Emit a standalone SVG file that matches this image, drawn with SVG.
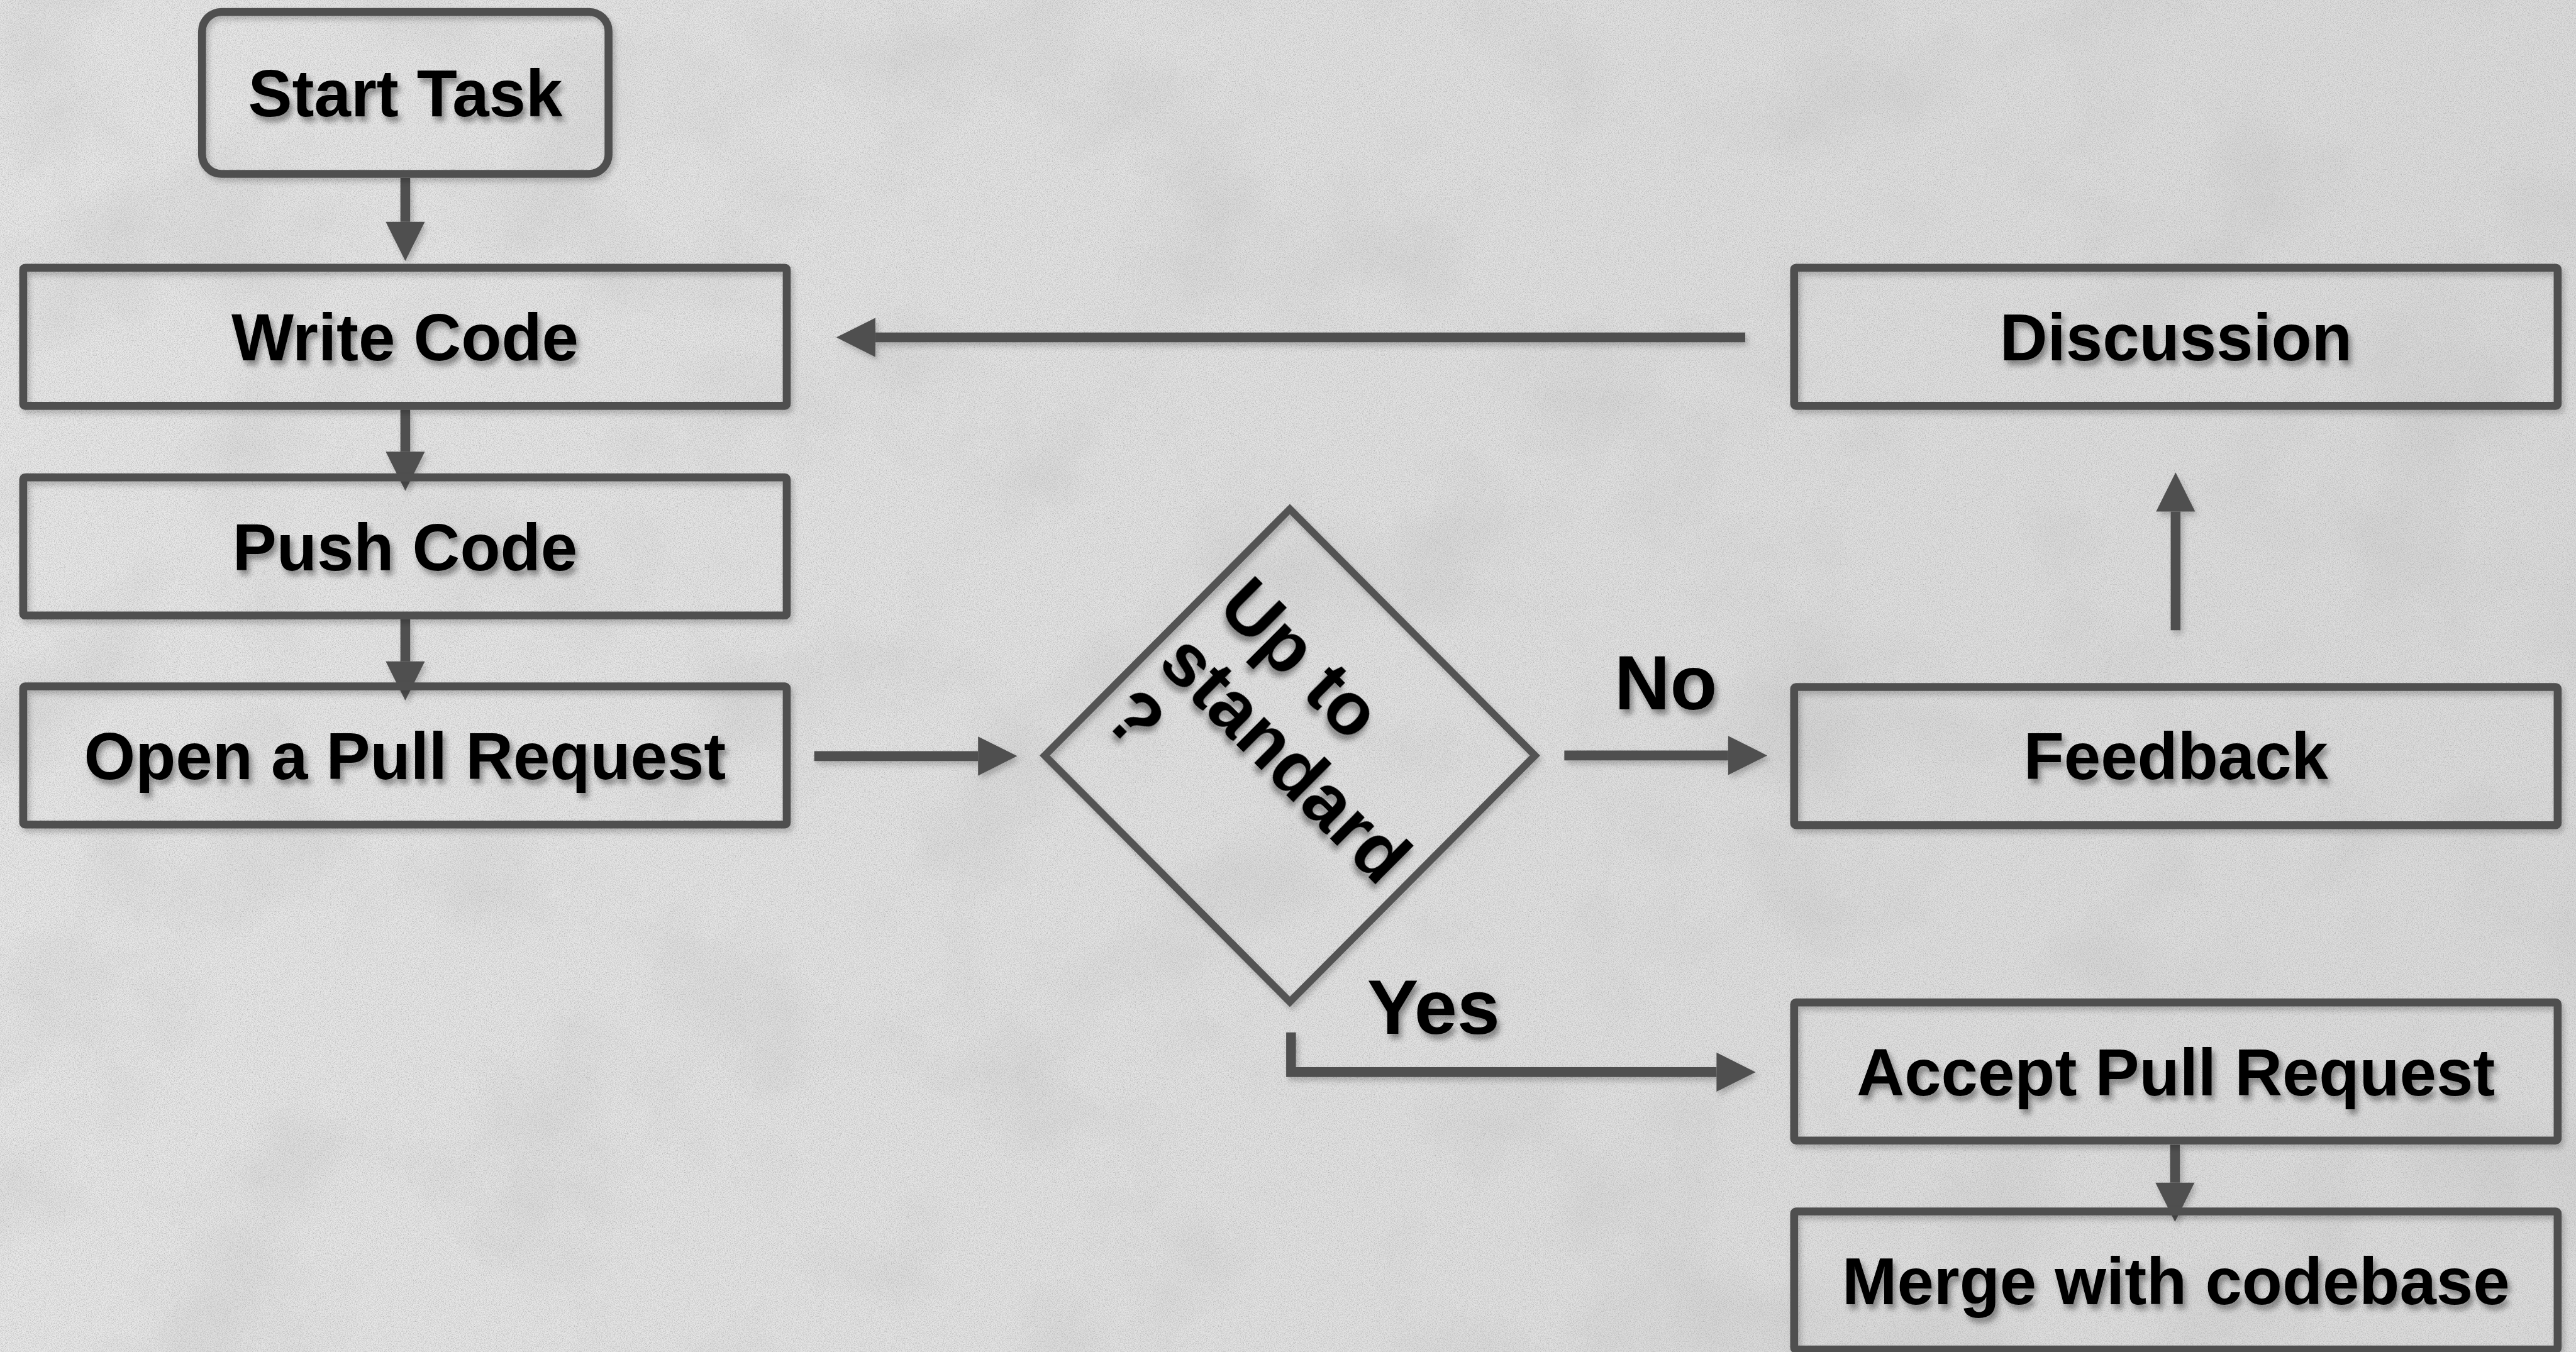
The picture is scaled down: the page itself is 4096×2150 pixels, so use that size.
<svg xmlns="http://www.w3.org/2000/svg" width="4096" height="2150" viewBox="0 0 4096 2150">
<defs>
<style>
.box{fill:none;stroke:#505050;stroke-width:13}
.dia{fill:none;stroke:#535353;stroke-width:12;stroke-linejoin:miter}
.lbl{font-family:"Liberation Sans",Arial,Helvetica,sans-serif;font-weight:bold;fill:#000;filter:url(#shText)}
.t108{font-size:108px;text-anchor:middle}
.t126{font-size:126px}
.t122{font-size:122px}
.con path{fill:none;stroke:#505050;stroke-width:16;stroke-linejoin:miter;marker-end:url(#ah)}
</style>
<marker id="ah" markerUnits="userSpaceOnUse" markerWidth="66" markerHeight="66" refX="0" refY="32" orient="auto" overflow="visible">
<path d="M0,0 L64,32 L0,64 Z" fill="#505050"/>
</marker>
<filter id="shText" x="-10%" y="-20%" width="130%" height="160%">
<feDropShadow dx="5" dy="8" stdDeviation="5" flood-color="#000" flood-opacity="0.4"/>
</filter>
<filter id="shShape" filterUnits="userSpaceOnUse" x="0" y="0" width="4400" height="2400">
<feDropShadow dx="4" dy="6" stdDeviation="5" flood-color="#000" flood-opacity="0.22"/>
</filter>
<filter id="grain" filterUnits="userSpaceOnUse" x="0" y="0" width="4096" height="2150">
<feTurbulence type="fractalNoise" baseFrequency="0.75" numOctaves="2" seed="4" result="n"/>
<feColorMatrix in="n" type="matrix" values="0 0 0 0 0.4  0 0 0 0 0.4  0 0 0 0 0.4  1.5 0 0 0 -0.6"/>
</filter>
<filter id="blotch" filterUnits="userSpaceOnUse" x="0" y="0" width="4096" height="2150">
<feTurbulence type="fractalNoise" baseFrequency="0.004 0.004" numOctaves="5" seed="11" result="m"/>
<feColorMatrix in="m" type="matrix" values="0 0 0 0 0.5  0 0 0 0 0.5  0 0 0 0 0.5  0.7 0 0 0 -0.33"/>
</filter>
<linearGradient id="bgG" x1="0" y1="0" x2="1" y2="0">
<stop offset="0" stop-color="#e8e8e8"/>
<stop offset="0.5" stop-color="#e2e2e2"/>
<stop offset="1" stop-color="#dcdcdc"/>
</linearGradient>
</defs>
<rect width="4096" height="2150" fill="url(#bgG)"/>
<rect width="4096" height="2150" fill="#fff" filter="url(#blotch)"/>
<rect width="4096" height="2150" fill="#fff" filter="url(#grain)"/>
<g transform="scale(0.972)">
<g id="connectors" class="con" filter="url(#shShape)">
<path id="c-start-write" d="M663,291 L663,363"/>
<path id="c-write-push" d="M663,670 L663,739"/>
<path id="c-push-open" d="M663,1013 L663,1082"/>
<path id="c-disc-write" d="M2855,552 L1432,552"/>
<path id="c-open-dec" d="M1332,1237 L1600,1237"/>
<path id="c-dec-feed" d="M2559,1236 L2827,1236"/>
<path id="c-feed-disc" d="M3559,1031 L3559,837"/>
<path id="c-dec-accept" d="M2112,1689 L2112,1754 L2808,1754"/>
<path id="c-accept-merge" d="M3558,1873 L3558,1935"/>
</g>
<g id="nodes" filter="url(#shShape)">
<g id="n-start"><rect class="box" x="330.5" y="19.5" width="665" height="265" rx="32"/></g>
<g id="n-write"><rect class="box" x="38" y="438" width="1249" height="226" rx="3"/></g>
<g id="n-push"><rect class="box" x="38" y="781" width="1249" height="226" rx="3"/></g>
<g id="n-open"><rect class="box" x="38" y="1123" width="1249" height="226" rx="3"/></g>
<g id="n-decision"><polygon class="dia" points="2110,833 2511,1236 2110,1639 1709,1236"/></g>
<g id="n-discussion"><rect class="box" x="2935" y="438" width="1249" height="226" rx="3"/></g>
<g id="n-feedback"><rect class="box" x="2935" y="1124" width="1249" height="226" rx="3"/></g>
<g id="n-accept"><rect class="box" x="2935" y="1640" width="1249" height="226" rx="3"/></g>
<g id="n-merge"><rect class="box" x="2935" y="1982" width="1249" height="226" rx="3"/></g>
</g>
<g id="node-labels">
<text class="lbl t108" x="663" y="190">Start Task</text>
<text class="lbl t108" x="662.5" y="590">Write Code</text>
<text class="lbl t108" x="662.5" y="933">Push Code</text>
<text class="lbl t108" x="662.5" y="1275">Open a Pull Request</text>
<g transform="translate(2114,1236) rotate(45)"><text class="lbl t122"><tspan x="-258" y="-80">Up to</tspan><tspan x="-262" y="52">standard</tspan><tspan x="-262" y="180">?</tspan></text></g>
<text class="lbl t108" x="3559.5" y="590">Discussion</text>
<text class="lbl t108" x="3559.5" y="1275">Feedback</text>
<text class="lbl t108" x="3559.5" y="1792">Accept Pull Request</text>
<text class="lbl t108" x="3559.5" y="2134">Merge with codebase</text>
</g>
<g id="labels"><text class="lbl t126" x="2725" y="1161" text-anchor="middle">No</text><text class="lbl t126" x="2345" y="1691" text-anchor="middle">Yes</text></g>
</g>
</svg>
